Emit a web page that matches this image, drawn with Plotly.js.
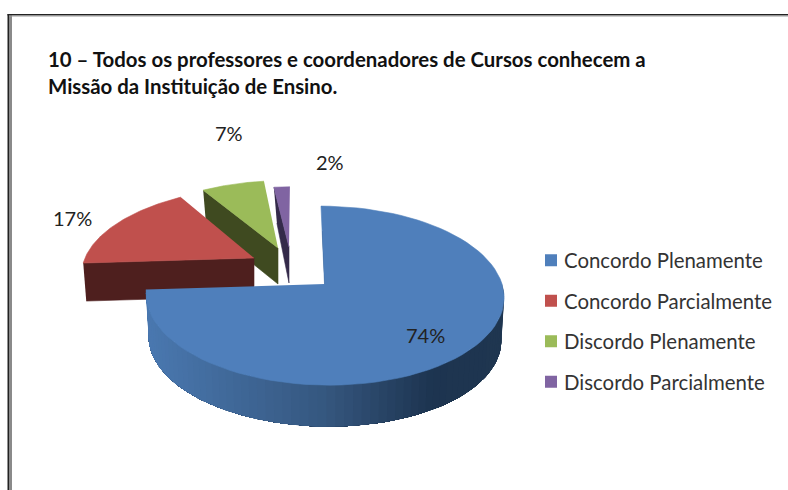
<!DOCTYPE html>
<html><head><meta charset="utf-8">
<script src="https://cdn.plot.ly/plotly-3.0.1.min.js"></script>
<style>html,body{margin:0;padding:0;background:#fff}#c{width:788px;height:490px}</style>
</head><body><div id="c"></div>
<script>
const categories = ["Concordo Plenamente","Concordo Parcialmente","Discordo Plenamente","Discordo Parcialmente"];
const percents = [74,17,7,2];
const topColors = ["#4f7fbb","#c0504d","#9bbb59","#8064a2"];
const radialWallColors = ["#1f3550","#4e1f1e","#3f4a20","#342a4a"];
const titleLines = ["10 – Todos os professores e coordenadores de Cursos conhecem a","Missão da Instituição de Ensino."];

// Drawing geometry of the exploded, tilted pie (pixels; the axes map 1:1 to the page).
const geomCx = [324.5,254,278,289];
const geomCy = [284,258,248,247];
const geomA  = [177.5,169,162,144];
const geomR  = [88,80,76,68];
const geomSh = [-0.045,0.14,0.059,0.015];
const geomK = 0.13;
const geomDepth = [43,38,36,36];
const labelX = [425.5,72,228.5,330];
const labelY = [335,217.5,133,161.5];

function project(i, deg, scale){
  const t = deg*Math.PI/180, u = Math.sin(t), v = Math.cos(t);
  const den = 1 + geomK*v;
  const yy = geomR[i]*scale*v/den;
  return [geomCx[i] + geomA[i]*scale*u/den + geomSh[i]*yy, geomCy[i] - yy];
}
function mix(a,b,t){return a.map((c,i)=>Math.round(c+(b[i]-c)*t));}
function wallColor(t){
  const s=[[0,[74,120,176]],[0.5,[53,87,127]],[0.8,[29,52,80]],[1,[31,54,80]]];
  for(let i=1;i<s.length;i++) if(t<=s[i][0]){
    const [p,q]=[s[i-1],s[i]];
    const c=mix(p[1],q[1],(t-p[0])/(q[0]-p[0]));
    return `rgb(${c[0]},${c[1]},${c[2]})`;
  }
  return "rgb(31,54,80)";
}
const bounds=[]; let acc=0;
percents.forEach(p=>{const a=acc*3.6; acc+=p; bounds.push([a,acc*3.6]);});

const traces=[];
function poly(xs,ys,color,w){
  traces.push({type:"scatter",mode:"lines",x:xs,y:ys,fill:"toself",fillcolor:color,
    line:{color:color,width:w===undefined?0.6:w},showlegend:false,hoverinfo:"skip"});
}
[3,2,1,0].forEach(i=>{
  const [a0,a1]=bounds[i], d=geomDepth[i];
  const ap=[geomCx[i],geomCy[i]];
  const st=project(i,a0,1);
  if(i===0){
    // curved outer wall: each strip reaches to the far end so later strips overlap it
    const lo=90, n=70, step=(a1-lo)/n;
    for(let k=0;k<n;k++){
      const q0=lo+k*step;
      const xs=[],ys=[],xb=[],yb=[];
      for(let q=q0;q<=a1+1e-6;q+=step){
        const p=project(i,q,1),b=project(i,q,0.985);
        xs.push(p[0]);ys.push(p[1]);xb.unshift(b[0]);yb.unshift(b[1]+d);
      }
      const xt=(project(i,q0+step/2,1)[0]-146)/358;
      poly(xs.concat(xb),ys.concat(yb),wallColor(Math.max(0,Math.min(1,xt))),0);
    }
    traces.push({type:"scatter",mode:"lines",x:[st[0]+1.5,ap[0]+0.5],y:[st[1]+25,ap[1]],
      line:{color:radialWallColors[0],width:1},showlegend:false,hoverinfo:"skip"});
  } else {
    const e=project(i,a0,1);
    poly([e[0],ap[0],ap[0],e[0]+3],[e[1],ap[1],ap[1]+d,e[1]+d],radialWallColors[i]);
  }
  const xs=[ap[0]],ys=[ap[1]];
  for(let q=a0;q<=a1+1e-6;q+=(a1-a0)/80){const p=project(i,q,1);xs.push(p[0]);ys.push(p[1]);}
  poly(xs,ys,topColors[i]);
});
categories.forEach((c,i)=>traces.push({type:"scatter",mode:"markers",x:[null],y:[null],name:c,legendgroup:"g"+i,
  marker:{symbol:"square",size:12,color:topColors[i]},hoverinfo:"skip"}));

const layout={
  width:788,height:490,margin:{l:0,r:0,t:0,b:0},paper_bgcolor:"#fff",plot_bgcolor:"#fff",
  xaxis:{range:[0,788],visible:false,fixedrange:true},
  yaxis:{range:[490,0],visible:false,fixedrange:true},
  title:{text:titleLines.join("<br>"),x:48/788,xanchor:"left",xref:"paper",y:1-67/490,yanchor:"top",yref:"paper",
    font:{family:"Lato, Carlito, sans-serif",size:20.4,color:"#111",weight:700}},
  legend:{x:524/788,y:1-240.5/490,xanchor:"left",yanchor:"top",tracegroupgap:11,itemwidth:30,
    font:{family:"Lato, sans-serif",size:20.4,color:"#333"},bgcolor:"rgba(0,0,0,0)"},
  shapes:[
    {type:"rect",xref:"paper",yref:"paper",x0:9/788,x1:12/788,y0:0,y1:1-15/490,fillcolor:"#8a8a8a",line:{width:0}},
    {type:"rect",xref:"paper",yref:"paper",x0:7.5/788,x1:9/788,y0:0,y1:1-14/490,fillcolor:"#222",line:{width:0}},
    {type:"rect",xref:"paper",yref:"paper",x0:7.5/788,x1:1,y0:1-15.5/490,y1:1-14/490,fillcolor:"#222",line:{width:0}},
    {type:"rect",xref:"paper",yref:"paper",x0:9/788,x1:1,y0:1-16.5/490,y1:1-15.5/490,fillcolor:"#9a9a9a",line:{width:0}}
  ],
  annotations:percents.map((p,i)=>({x:labelX[i],y:labelY[i],xref:"x",yref:"y",text:p+"%",showarrow:false,
    font:{family:"Lato, sans-serif",size:20,color:"#222"}}))
};
Plotly.newPlot("c",traces,layout,{displayModeBar:false,staticPlot:true}).then(()=>{
  // bring the legend swatches closer to their labels, as in the reference
  document.querySelectorAll("#c .legendpoints").forEach(el=>{
    el.setAttribute("transform",(el.getAttribute("transform")||"")+" translate(7,0)");
  });
});
</script></body></html>
